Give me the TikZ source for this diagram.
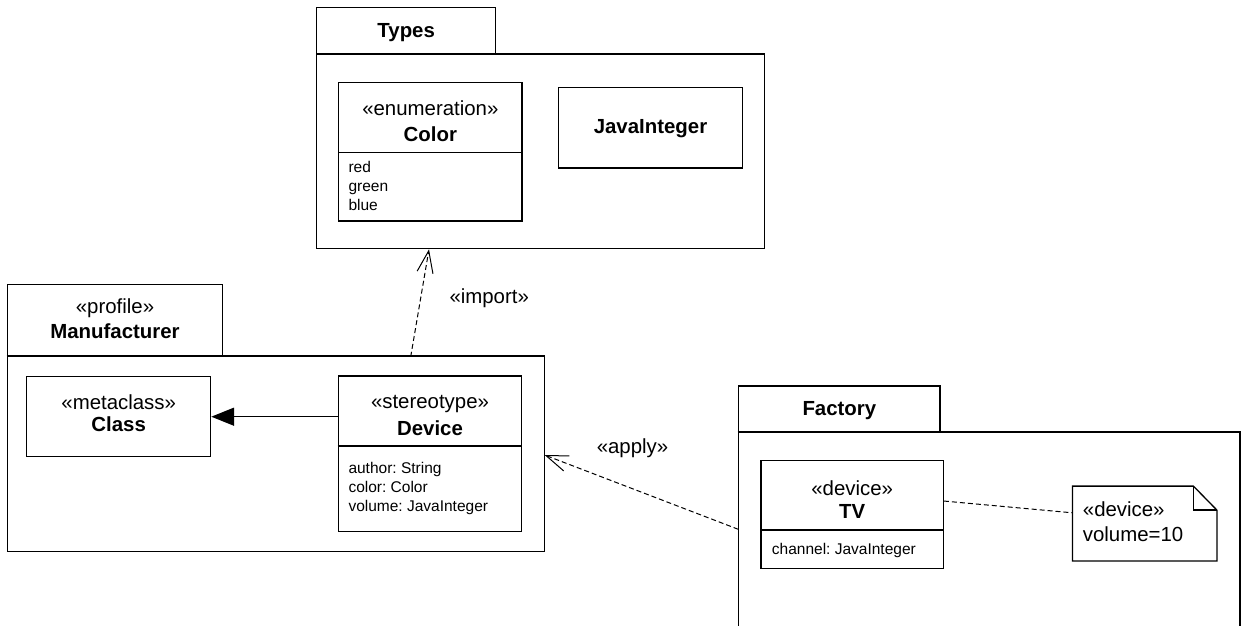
\documentclass[tikz,border=0pt]{standalone}
\usepackage{fontspec}
\setmainfont{Liberation Sans}
\usetikzlibrary{arrows.meta,calc}
\frenchspacing
\newcommand\mainf{\fontsize{20.4}{24}\selectfont}
\newcommand\smallf{\fontsize{15.5}{19}\selectfont}
\tikzset{
  box/.style={draw, line width=1.3pt, rectangle, inner sep=0pt},
  lbl/.style={anchor=base, inner sep=0pt, font=\mainf},
  bl/.style={anchor=base, inner sep=0pt, font=\mainf\bfseries},
  attr/.style={anchor=base west, inner sep=0pt, font=\smallf},
  topline/.style={line width=2.2pt},
  dep/.style={line width=1pt, dash pattern=on 5pt off 3pt, -{Straight Barb[length=22pt,width=16pt,line width=1pt]}},
  link/.style={line width=1pt, dash pattern=on 5pt off 3pt},
  gen/.style={line width=1.3pt, -{Triangle[length=22.7pt,width=18pt]}}
}
\begin{document}
\begin{tikzpicture}[x=1pt,y=-1pt]
\useasboundingbox (0,0) rectangle (1244,626);

% ---------- Types package ----------
\node[box, minimum width=179pt, minimum height=47pt] (ttab) at (406.2,30.8) {};
\node[box, minimum width=447.6pt, minimum height=194pt] (tbody) at (540.5,151.3) {};
\draw[topline] (tbody.north west) -- (tbody.north east);
\node[bl] (ttab-t) at (406.2,37.3) {Types};

\node[box, minimum width=183.3pt, minimum height=138.7pt] (color) at (430.35,151.65) {};
\draw[line width=1.3pt] ($(color.north west)+(0,71)$) -- ($(color.north east)+(0,71)$);
\node[lbl] (color-s) at (430.35,115) {«enumeration»};
\node[bl] (color-n) at (430.35,141.7) {Color};
\node[attr] (color-a1) at (348.3,172.7) {red};
\node[attr] (color-a2) at (348.3,191.7) {green};
\node[attr] (color-a3) at (348.3,210.7) {blue};

\node[box, minimum width=184.4pt, minimum height=80.7pt] (jint) at (650.5,127.65) {};
\node[bl] (jint-n) at (650.5,133.3) {JavaInteger};

% ---------- Manufacturer profile ----------
\node[box, minimum width=215.4pt, minimum height=72pt] (mtab) at (115,320.7) {};
\node[box, minimum width=537.3pt, minimum height=195pt] (mbody) at (275.95,454.2) {};
\draw[topline] (mbody.north west) -- (mbody.north east);
\node[lbl] (mtab-s) at (115,313) {«profile»};
\node[bl] (mtab-n) at (115,338) {Manufacturer};

\node[box, minimum width=184pt, minimum height=80pt] (class) at (118.7,416.7) {};
\node[lbl] (class-s) at (118.7,409) {«metaclass»};
\node[bl] (class-n) at (118.7,431.7) {Class};

\node[box, minimum width=183.4pt, minimum height=155.7pt] (device) at (430,453.85) {};
\draw[line width=1.3pt] ($(device.north west)+(0,70.7)$) -- ($(device.north east)+(0,70.7)$);
\node[lbl] (device-s) at (430,408) {«stereotype»};
\node[bl] (device-n) at (430,435) {Device};
\node[attr] (device-a1) at (348.3,473.3) {author: String};
\node[attr] (device-a2) at (348.3,492.3) {color: Color};
\node[attr] (device-a3) at (348.3,511.7) {volume: JavaInteger};

\draw[gen] (class.east -| device.west) -- (class.east);

% ---------- Factory package ----------
\node[box, minimum width=201.3pt, minimum height=46.3pt] (ftab) at (839.35,409.15) {};
\node[box, minimum width=501.7pt, minimum height=215.4pt] (fbody) at (989.15,540) {};
\draw[topline] (fbody.north west) -- (fbody.north east);
\node[bl] (ftab-t) at (839.35,415) {Factory};

\node[box, minimum width=182.3pt, minimum height=107.6pt] (tv) at (852.15,514.5) {};
\draw[line width=1.3pt] ($(tv.north west)+(0,70)$) -- ($(tv.north east)+(0,70)$);
\node[lbl] (tv-s) at (852.15,495) {«device»};
\node[bl] (tv-n) at (852.15,518) {TV};
\node[attr] (tv-a1) at (771.7,554) {channel: JavaInteger};

\node[minimum width=144pt, minimum height=74.4pt, inner sep=0pt] (note) at (1144.7,523.5) {};
\draw[line width=1.3pt] (note.north west) -- ($(note.north east)+(-23.5,0)$) -- ($(note.north east)+(0,24)$) -- (note.south east) -- (note.south west) -- cycle;
\draw[line width=1.3pt] ($(note.north east)+(-23.5,0)$) -- ($(note.north east)+(-23.5,24)$) -- ($(note.north east)+(0,24)$);
\node[attr, font=\mainf] (note-s) at (1082.7,516) {«device»};
\node[attr, font=\mainf] (note-v) at (1082.7,541.3) {volume=10};

\draw[link] ($(tv.north east)+(0,41)$) -- ($(note.north west)+(0,26.7)$);

% ---------- dependencies ----------
\coordinate (imp-s) at (410.7,356.7);
\coordinate (imp-e) at (429,249.3);
\draw[dep] (imp-s) -- (imp-e);
\node[lbl] (imp-l) at (489.2,303.3) {«import»};

\coordinate (app-s) at (738.3,529.3);
\coordinate (app-e) at (544.6,455);
\draw[dep] (app-s) -- (app-e);
\node[lbl] (app-l) at (632.5,453.3) {«apply»};

\end{tikzpicture}
\end{document}
